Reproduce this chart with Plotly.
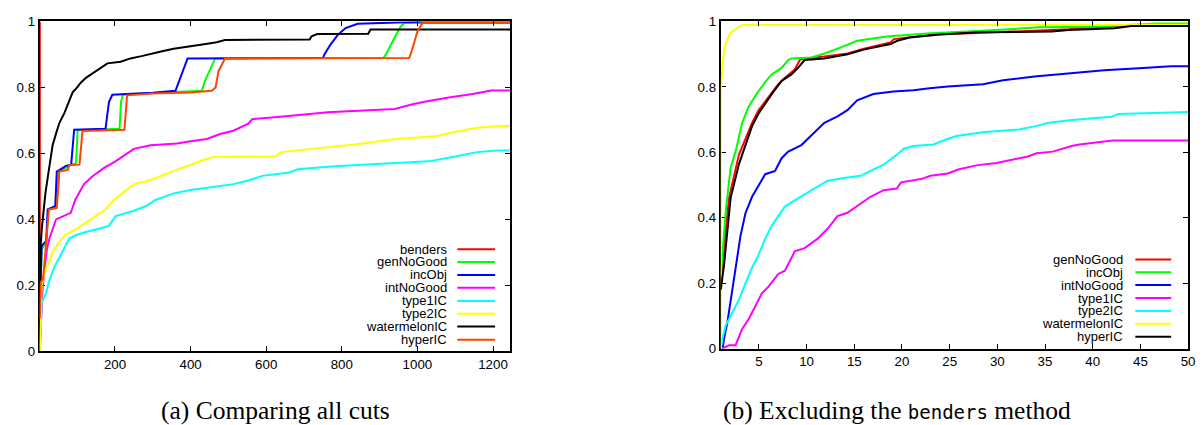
import plotly.graph_objects as go

W, H = 1204, 425

# ---------------- (a) Comparing all cuts ----------------
A_XMAX = 1245

# benders is best on every instance: a single vertical rise at ratio 1
a_benders_x = [1, 1]
a_benders_y = [0.0, 1.0]

a_gen_x = [1, 3, 6, 18, 22, 24, 44, 48, 51, 70, 84, 97, 101, 212, 216, 221, 430, 438, 450, 458, 465, 910, 917, 930, 945, 956, 966]
a_gen_y = [0.1, 0.21, 0.31, 0.33, 0.42, 0.43, 0.44, 0.5, 0.545, 0.556, 0.566, 0.57, 0.67, 0.675, 0.756, 0.779, 0.79, 0.82, 0.85, 0.87, 0.888, 0.889, 0.9, 0.93, 0.96, 0.985, 0.995]

a_inc_x = [1, 3, 6, 18, 22, 42, 44, 46, 60, 70, 84, 89.5, 92, 175, 180, 184, 193, 300, 360, 373, 381, 392, 750, 754, 770, 790, 810, 842, 1030]
a_inc_y = [0.1, 0.21, 0.32, 0.335, 0.43, 0.44, 0.5, 0.545, 0.555, 0.562, 0.566, 0.64, 0.672, 0.675, 0.72, 0.756, 0.778, 0.784, 0.79, 0.83, 0.858, 0.888, 0.889, 0.9, 0.93, 0.96, 0.98, 0.993, 1.0]

a_int_x = [1, 4, 8, 12, 16, 20, 26, 34, 44, 83, 88, 95, 105, 118, 140, 171, 200, 224, 250, 294, 364, 400, 443, 478, 513, 553, 563, 645, 763, 940, 987, 1026, 1079, 1150, 1195]
a_int_y = [0.0, 0.1, 0.18, 0.236, 0.27, 0.31, 0.34, 0.37, 0.4, 0.42, 0.44, 0.46, 0.48, 0.507, 0.53, 0.556, 0.575, 0.595, 0.614, 0.625, 0.63, 0.637, 0.644, 0.659, 0.669, 0.69, 0.704, 0.712, 0.725, 0.735, 0.749, 0.758, 0.769, 0.781, 0.791]

a_t1_x = [1, 4, 6, 17.5, 26, 39, 52, 66, 79, 96, 123, 158, 184, 202, 246, 281, 307, 355, 399, 460, 513, 553, 590, 660, 684, 780, 937, 1030, 1114, 1157, 1210]
a_t1_y = [0.0, 0.08, 0.147, 0.176, 0.215, 0.254, 0.283, 0.313, 0.342, 0.352, 0.362, 0.372, 0.381, 0.41, 0.425, 0.44, 0.459, 0.479, 0.489, 0.498, 0.507, 0.518, 0.532, 0.542, 0.552, 0.561, 0.569, 0.576, 0.594, 0.604, 0.609]

a_t2_x = [1, 3, 6, 12, 17.5, 26, 35, 52, 70, 96, 123, 149, 175, 193, 220, 250, 280, 311, 355, 399, 434, 460, 625, 640, 753, 840, 937, 1052, 1087, 1157, 1219]
a_t2_y = [0.0, 0.12, 0.2, 0.23, 0.25, 0.27, 0.3, 0.33, 0.355, 0.37, 0.39, 0.41, 0.43, 0.455, 0.48, 0.507, 0.515, 0.527, 0.547, 0.566, 0.58, 0.589, 0.591, 0.604, 0.617, 0.628, 0.643, 0.653, 0.663, 0.678, 0.683]

a_wm_x = [1, 2, 4, 7, 11, 16, 22, 28, 35, 44, 53, 66, 77, 88, 100, 110, 124, 136, 150, 162, 180, 215, 241, 270, 294, 325, 355, 380, 408, 440, 469, 491, 715, 720, 735, 870, 876]
a_wm_y = [0.2, 0.26, 0.333, 0.38, 0.43, 0.48, 0.527, 0.58, 0.625, 0.66, 0.693, 0.722, 0.755, 0.785, 0.80, 0.815, 0.83, 0.839, 0.85, 0.858, 0.873, 0.878, 0.888, 0.895, 0.902, 0.91, 0.917, 0.922, 0.927, 0.932, 0.937, 0.944, 0.945, 0.955, 0.962, 0.963, 0.976]

a_hyp_x = [1, 2, 4, 10, 17, 19, 25, 46, 50, 53, 75, 79, 106, 110, 114, 225, 228, 232, 300, 400, 456, 466, 474, 491, 978, 982, 990, 1000, 1013]
a_hyp_y = [0.1, 0.2, 0.21, 0.22, 0.31, 0.333, 0.43, 0.435, 0.5, 0.545, 0.55, 0.564, 0.566, 0.62, 0.668, 0.672, 0.72, 0.776, 0.782, 0.785, 0.79, 0.8, 0.85, 0.888, 0.889, 0.9, 0.93, 0.97, 0.995]

a_names = ["benders", "genNoGood", "incObj", "intNoGood", "type1IC", "type2IC", "watermelonIC", "hyperIC"]
a_colors = ["#ff0000", "#00ff00", "#0000ff", "#ff00ff", "#00ffff", "#ffff00", "#000000", "#ff4500"]
a_series = [(a_benders_x, a_benders_y), (a_gen_x, a_gen_y), (a_inc_x, a_inc_y), (a_int_x, a_int_y),
            (a_t1_x, a_t1_y), (a_t2_x, a_t2_y), (a_wm_x, a_wm_y), (a_hyp_x, a_hyp_y)]
a_extend = [False, True, True, True, True, True, True, True]

# ---------------- (b) Excluding benders ----------------
B_XMAX = 50

b_gen_x = [1, 1.17, 1.86, 2.55, 2.9, 3.59, 4.28, 4.97, 6, 7.03, 7.72, 8.76, 9.28, 9.79, 11.86, 14.3, 16, 18.8, 19.15, 20.5, 23.3, 27.8, 34.4, 37.5, 39.9, 43.7]
b_gen_y = [0.2, 0.26, 0.46, 0.553, 0.592, 0.641, 0.69, 0.729, 0.769, 0.808, 0.828, 0.853, 0.882, 0.887, 0.893, 0.902, 0.917, 0.936, 0.946, 0.951, 0.96, 0.965, 0.972, 0.976, 0.982, 0.986]

b_inc_x = [1, 1.17, 1.52, 2.03, 2.55, 3.24, 3.93, 4.79, 5.66, 6.34, 7.38, 8.07, 8.41, 10.5, 11.9, 13.6, 15.3, 18.4, 20.2, 23, 27.5, 32.7, 34.4, 40, 46.6]
b_inc_y = [0.22, 0.29, 0.42, 0.553, 0.602, 0.69, 0.74, 0.78, 0.815, 0.838, 0.858, 0.882, 0.887, 0.89, 0.902, 0.921, 0.941, 0.954, 0.958, 0.964, 0.97, 0.978, 0.982, 0.984, 0.994]

b_int_x = [1.2, 1.34, 1.69, 2.03, 2.55, 3.07, 3.59, 4.28, 5.66, 6.69, 7.38, 8.07, 9.45, 10.48, 11.86, 13.24, 14.28, 15.3, 17, 19.1, 21.2, 22.9, 24.8, 28.5, 30.6, 33.9, 37.2, 38.7, 41.2, 45.3, 48.2]
b_int_y = [0.0, 0.03, 0.08, 0.149, 0.247, 0.345, 0.414, 0.464, 0.533, 0.543, 0.582, 0.602, 0.622, 0.651, 0.69, 0.71, 0.729, 0.759, 0.778, 0.786, 0.79, 0.796, 0.801, 0.808, 0.82, 0.832, 0.841, 0.845, 0.851, 0.858, 0.863]

b_t1_x = [1.17, 1.86, 2.55, 3.24, 3.93, 4.62, 5.31, 6, 7.03, 7.72, 8.76, 9.79, 11.17, 12.2, 13.24, 14.28, 15.66, 16.7, 18.07, 19.45, 19.9, 22, 23, 24.8, 26, 27.8, 29.9, 31.1, 33.2, 34.1, 35.8, 37.8, 38.6, 42.1]
b_t1_y = [0.0, 0.01, 0.01, 0.06, 0.09, 0.129, 0.169, 0.189, 0.228, 0.238, 0.297, 0.307, 0.336, 0.366, 0.405, 0.415, 0.444, 0.464, 0.484, 0.489, 0.508, 0.518, 0.528, 0.535, 0.548, 0.56, 0.567, 0.574, 0.587, 0.597, 0.602, 0.619, 0.624, 0.636]

b_t2_x = [1, 1.17, 1.52, 2.2, 2.9, 3.59, 4.28, 4.97, 5.66, 6.34, 7.03, 7.72, 9.1, 10.48, 12.2, 14.28, 15.66, 16.7, 18.07, 19.45, 20.19, 21.2, 23.3, 24.7, 25.7, 28.5, 32.3, 34, 35.4, 37.8, 39.9, 41.97, 42.7, 49.2]
b_t2_y = [0.0, 0.03, 0.071, 0.11, 0.149, 0.199, 0.247, 0.287, 0.336, 0.375, 0.405, 0.434, 0.459, 0.484, 0.513, 0.523, 0.528, 0.543, 0.562, 0.592, 0.611, 0.619, 0.624, 0.64, 0.65, 0.661, 0.67, 0.68, 0.69, 0.699, 0.704, 0.709, 0.717, 0.723]

b_wm_x = [1, 1, 1.17, 1.4, 1.69, 2.03, 2.72, 3.24]
b_wm_y = [0.0, 0.79, 0.867, 0.92, 0.946, 0.965, 0.98, 0.99]

b_hyp_x = [1, 1.34, 2.03, 2.9, 3.59, 4.28, 4.97, 5.66, 6.34, 7.38, 8.41, 9.1, 9.79, 11.86, 14.3, 16, 18.8, 19.5, 20.8, 24, 28.1, 35.7, 37.5, 42.3, 44.05]
b_hyp_y = [0.18, 0.255, 0.46, 0.563, 0.622, 0.68, 0.719, 0.749, 0.778, 0.818, 0.838, 0.858, 0.882, 0.887, 0.9, 0.914, 0.931, 0.941, 0.951, 0.96, 0.967, 0.969, 0.974, 0.979, 0.986]

b_names = ["genNoGood", "incObj", "intNoGood", "type1IC", "type2IC", "watermelonIC", "hyperIC"]
b_colors = ["#ff0000", "#00ff00", "#0000ff", "#ff00ff", "#00ffff", "#ffff00", "#000000"]
b_series = [(b_gen_x, b_gen_y), (b_inc_x, b_inc_y), (b_int_x, b_int_y), (b_t1_x, b_t1_y),
            (b_t2_x, b_t2_y), (b_wm_x, b_wm_y), (b_hyp_x, b_hyp_y)]
b_extend = [True] * 7

y_ticks = [0, 0.2, 0.4, 0.6, 0.8, 1]
y_ticktext = ["0", "0.2", "0.4", "0.6", "0.8", "1"]
a_xticks = [200, 400, 600, 800, 1000, 1200]
b_xticks = [5, 10, 15, 20, 25, 30, 35, 40, 45, 50]

TICK_FONT = dict(family="Liberation Sans, Arial, sans-serif", size=13.3, color="#000000")
KEY_FONT = dict(family="Liberation Sans, Arial, sans-serif", size=13, color="#000000")

fig = go.Figure()


def add_profiles(series, names, colors, extend, xmax, xa, ya):
    for (xs, ys), name, col, ext in zip(series, names, colors, extend):
        px = list(xs) + ([xmax] if ext else [])
        py = list(ys) + ([ys[-1]] if ext else [])
        fig.add_trace(go.Scatter(
            x=px, y=py, mode="lines", line=dict(color=col, width=2),
            name=name, showlegend=False, xaxis=xa, yaxis=ya, hoverinfo="skip"))


add_profiles(a_series, a_names, a_colors, a_extend, A_XMAX, "x", "y")
add_profiles(b_series, b_names, b_colors, b_extend, B_XMAX, "x2", "y2")


def px_x(p):
    return p / W


def px_y(p):
    return 1 - p / H


axis_common = dict(showline=True, linecolor="#000000", linewidth=2, mirror="ticks",
                   ticks="inside", ticklen=5, tickwidth=1, tickcolor="#000000",
                   showgrid=False, zeroline=False, tickfont=TICK_FONT, fixedrange=True)

fig.update_layout(
    width=W, height=H,
    margin=dict(l=0, r=0, t=0, b=0),
    paper_bgcolor="white", plot_bgcolor="white",
    xaxis=dict(domain=[px_x(40), px_x(513)], range=[1, A_XMAX], tickvals=a_xticks,
               anchor="y", layer="above traces", **axis_common),
    yaxis=dict(domain=[px_y(357), px_y(15)], range=[0, 1], tickvals=y_ticks, ticktext=y_ticktext,
               anchor="x", layer="below traces", **axis_common),
    xaxis2=dict(domain=[px_x(725), px_x(1195)], range=[1, B_XMAX], tickvals=b_xticks,
                anchor="y2", layer="above traces", **axis_common),
    yaxis2=dict(domain=[px_y(354), px_y(15)], range=[0, 1], tickvals=y_ticks, ticktext=y_ticktext,
                anchor="x2", layer="below traces", **axis_common),
)

# key boxes: label right-aligned, sample line to its right
shapes = []
annotations = []


def add_key(names, colors, rows, text_right, line_x0, line_x1):
    for name, col, ry in zip(names, colors, rows):
        annotations.append(dict(
            xref="paper", yref="paper", x=px_x(text_right), y=px_y(ry),
            xanchor="right", yanchor="middle", text=name, showarrow=False,
            font=KEY_FONT))
        shapes.append(dict(
            type="line", xref="paper", yref="paper",
            x0=px_x(line_x0), x1=px_x(line_x1), y0=px_y(ry), y1=px_y(ry),
            line=dict(color=col, width=2)))


a_rows = [251, 264.3, 277.7, 291, 304.7, 318, 331.3, 345]
b_rows = [261.7, 275, 288.3, 301.7, 315, 328.3, 341.7]
add_key(a_names, a_colors, a_rows, 452, 460, 498)
add_key(b_names, b_colors, b_rows, 1132, 1142, 1178)

CAP_FONT = dict(family="Liberation Serif, Times New Roman, serif", size=25.5, color="#000000")
annotations.append(dict(xref="paper", yref="paper", x=px_x(277.5), y=px_y(418),
                        xanchor="center", yanchor="middle", showarrow=False,
                        text="(a) Comparing all cuts", font=CAP_FONT))
annotations.append(dict(xref="paper", yref="paper", x=px_x(902), y=px_y(418),
                        xanchor="center", yanchor="middle", showarrow=False,
                        text='(b) Excluding the <span style="font-family:DejaVu Sans Mono;font-size:19px">benders</span> method',
                        font=CAP_FONT))

fig.update_layout(shapes=shapes, annotations=annotations)

fig.write_html("out.html")
